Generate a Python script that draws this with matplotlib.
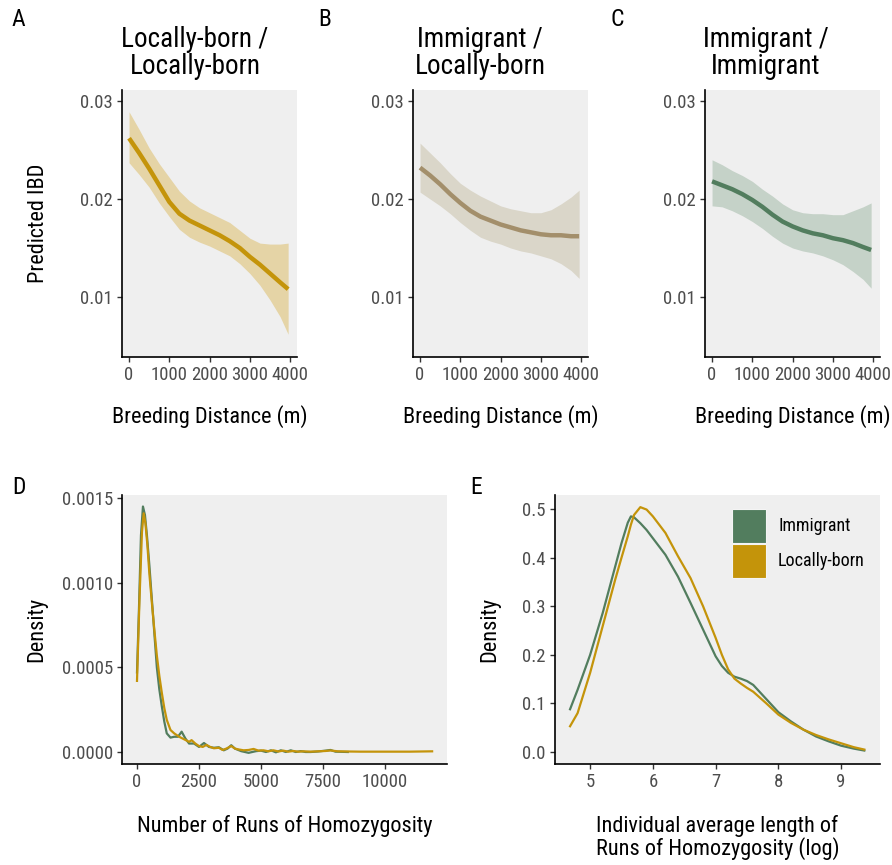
import matplotlib
matplotlib.use("Agg")
import matplotlib.pyplot as plt

plt.rcParams["font.family"] = ["Roboto Condensed", "DejaVu Sans"]

W, H = 892, 865

# ---- panels A-C: predicted IBD vs breeding distance (fit + CI ribbon) ----
dist = [0, 250, 500, 750, 1000, 1250, 1500, 1750, 2000, 2250, 2500, 2750, 3000,
        3250, 3500, 3750, 3950]

ll_fit = [0.0262, 0.0247, 0.0231, 0.0214, 0.0197, 0.0185, 0.0178, 0.0173, 0.0168,
          0.0163, 0.0157, 0.0150, 0.0141, 0.0133, 0.0124, 0.0115, 0.0108]
ll_hi = [0.0289, 0.0271, 0.0252, 0.0236, 0.0222, 0.0208, 0.0198, 0.0191, 0.0186,
         0.0181, 0.0176, 0.0168, 0.0160, 0.0155, 0.0154, 0.0154, 0.0155]
ll_lo = [0.0237, 0.0225, 0.0212, 0.0196, 0.0182, 0.0169, 0.0161, 0.0156, 0.0152,
         0.0147, 0.0142, 0.0134, 0.0124, 0.0112, 0.0097, 0.0080, 0.0062]

il_fit = [0.0232, 0.0224, 0.0215, 0.0205, 0.0196, 0.0188, 0.0182, 0.0178, 0.0174,
          0.0171, 0.0168, 0.0166, 0.0164, 0.0163, 0.0163, 0.0162, 0.0162]
il_hi = [0.0257, 0.0247, 0.0237, 0.0226, 0.0216, 0.0209, 0.0203, 0.0198, 0.0193,
         0.0190, 0.0188, 0.0186, 0.0186, 0.0189, 0.0195, 0.0202, 0.0209]
il_lo = [0.0207, 0.0200, 0.0193, 0.0185, 0.0176, 0.0168, 0.0161, 0.0157, 0.0154,
         0.0150, 0.0147, 0.0145, 0.0142, 0.0139, 0.0134, 0.0127, 0.0119]

ii_fit = [0.0218, 0.0214, 0.0210, 0.0205, 0.0199, 0.0192, 0.0184, 0.0177, 0.0172,
          0.0168, 0.0165, 0.0163, 0.0160, 0.0158, 0.0155, 0.0151, 0.0148]
ii_hi = [0.0240, 0.0235, 0.0229, 0.0224, 0.0218, 0.0210, 0.0203, 0.0195, 0.0189,
         0.0186, 0.0185, 0.0185, 0.0184, 0.0184, 0.0188, 0.0192, 0.0196]
ii_lo = [0.0193, 0.0192, 0.0188, 0.0183, 0.0177, 0.0170, 0.0162, 0.0155, 0.0150,
         0.0147, 0.0145, 0.0142, 0.0138, 0.0133, 0.0126, 0.0118, 0.0109]

ibd_ticks = [0.01, 0.02, 0.03]
dist_ticks = [0, 1000, 2000, 3000, 4000]

# ---- panel D: density of number of ROH ----
nroh_imm_x = [0, 80, 160, 240, 320, 400, 500, 600, 700, 800, 900, 1000, 1100, 1200,
              1350, 1500, 1650, 1800, 1950, 2100, 2300, 2500, 2700, 2900, 3100, 3300,
              3500, 3650, 3800, 3950, 4200, 4500, 4800, 5000, 5200, 5400, 5600, 5800,
              6000, 6200, 6400, 6600, 6800, 7000, 7300, 7600, 7800, 8000, 8500]
nroh_imm_y = [0.00047, 0.00085, 0.00128, 0.00145, 0.00140, 0.00128, 0.00110, 0.00090,
              0.00070, 0.00050, 0.00037, 0.00027, 0.00018, 0.00011, 0.000085, 0.00009,
              0.00009, 0.00012, 0.00008, 0.00005, 0.00005, 0.00003, 0.000053, 0.00003,
              0.000025, 0.000028, 0.00001, 0.00002, 0.00004, 0.00002, 0.000005, -0.000005,
              0.000005, 0.000008, 0.0, 0.00001, -0.000002, 0.00001, 0.0, 0.00001, 0.0,
              0.000005, 0.0, 0.0, 0.000003, 0.000008, 0.000012, 0.000002, 0.0]
nroh_loc_x = [0, 100, 200, 270, 340, 420, 500, 600, 700, 800, 900, 1000, 1100, 1200,
              1350, 1500, 1700, 1900, 2100, 2200, 2350, 2500, 2650, 2800, 2950, 3100,
              3300, 3450, 3600, 3800, 3950, 4100, 4300, 4500, 4700, 4900, 5100, 5300,
              5500, 5700, 5900, 6100, 6300, 6500, 6700, 7000, 7300, 7600, 7800, 8100,
              8500, 9000, 10000, 11000, 11900]
nroh_loc_y = [0.00042, 0.00090, 0.00130, 0.00141, 0.00135, 0.00122, 0.00105, 0.00088,
              0.00072, 0.00057, 0.00045, 0.00035, 0.00026, 0.00019, 0.00013, 0.00011,
              0.00009, 0.000075, 0.00006, 0.00007, 0.00005, 0.000035, 0.00003, 0.000042,
              0.00003, 0.000022, 0.000025, 0.000012, 0.00002, 0.000035, 0.00002,
              0.000015, 0.00001, 0.000012, 0.000018, 0.000008, 0.00001, 0.000004,
              0.00001, 0.000003, 0.000008, 0.000002, 0.000006, 0.000002, 0.000004,
              0.000002, 0.000004, 0.000006, 0.000009, 0.000004, 0.000003, 0.000002,
              0.000002, 0.000002, 0.000004]
nroh_yticks = [0.0, 0.0005, 0.0010, 0.0015]
nroh_xticks = [0, 2500, 5000, 7500, 10000]

# ---- panel E: density of average ROH length (log) ----
lroh_x = [4.68, 4.8, 5.0, 5.2, 5.4, 5.5, 5.6, 5.65, 5.7, 5.8, 5.9, 6.0, 6.2, 6.4, 6.6,
          6.8, 7.0, 7.1, 7.2, 7.3, 7.4, 7.5, 7.6, 7.8, 8.0, 8.2, 8.4, 8.6, 8.8, 9.0,
          9.2, 9.37]
lroh_imm = [0.088, 0.128, 0.200, 0.286, 0.382, 0.430, 0.472, 0.485, 0.483, 0.471,
            0.457, 0.440, 0.406, 0.361, 0.307, 0.252, 0.197, 0.177, 0.163, 0.155,
            0.151, 0.146, 0.138, 0.110, 0.082, 0.063, 0.046, 0.032, 0.022, 0.013,
            0.007, 0.003]
lroh_loc = [0.053, 0.080, 0.163, 0.259, 0.355, 0.400, 0.444, 0.468, 0.488, 0.504,
            0.499, 0.485, 0.451, 0.403, 0.358, 0.300, 0.235, 0.200, 0.170, 0.151,
            0.141, 0.132, 0.124, 0.101, 0.077, 0.060, 0.046, 0.035, 0.026, 0.018,
            0.010, 0.005]
lroh_yticks = [0.0, 0.1, 0.2, 0.3, 0.4, 0.5]
lroh_xticks = [5, 6, 7, 8, 9]

groups = ["Immigrant", "Locally-born"]

GOLD = "#C4940A"
GREEN = "#527D5E"
TAN = "#A38F6B"
BG = "#EFEFEF"
TICK_FS = 13.5
LAB_FS = 16


def add_panel(x0, y0, x1, y1):
    # pixel box (left, top, right, bottom) -> axes
    ax = fig.add_axes([x0 / W, 1 - y1 / H, (x1 - x0) / W, (y1 - y0) / H])
    ax.set_facecolor(BG)
    for s in ("top", "right"):
        ax.spines[s].set_visible(False)
    for s in ("left", "bottom"):
        ax.spines[s].set_linewidth(1.2)
        ax.spines[s].set_color("black")
    ax.tick_params(length=3.5, width=1.0, color="#333333", labelcolor="#4D4D4D",
                   labelsize=TICK_FS, pad=3)
    return ax


def ftext(x, y, s, **kw):
    fig.text(x / W, 1 - y / H, s, **kw)


fig = plt.figure(figsize=(W / 100, H / 100), dpi=100)

panels = [
    ("A", "Locally-born /\nLocally-born", 122, 12, 195, ll_fit, ll_lo, ll_hi, GOLD, "#E5D4A6"),
    ("B", "Immigrant /\nLocally-born", 413, 318, 480, il_fit, il_lo, il_hi, TAN, "#DAD6C9"),
    ("C", "Immigrant /\nImmigrant", 705, 611, 766, ii_fit, ii_lo, ii_hi, GREEN, "#C5D2C8"),
]
for i, (tag, title, left, lx, tx, fit, lo, hi, col, rib) in enumerate(panels):
    ax = add_panel(left, 90, left + 175, 357)
    ax.fill_between(dist, lo, hi, color=rib, lw=0)
    ax.plot(dist, fit, color=col, lw=3.2, solid_capstyle="butt")
    ax.set_xlim(-175, 4170)
    ax.set_ylim(0.00388, 0.03112)
    ax.set_yticks(ibd_ticks)
    ax.set_yticklabels(["0.01", "0.02", "0.03"])
    ax.set_xticks(dist_ticks)
    ax.set_xlabel("Breeding Distance (m)", fontsize=LAB_FS, color="black")
    ax.xaxis.set_label_coords(0.5, -0.18)
    if i == 0:
        ax.set_ylabel("Predicted IBD", fontsize=LAB_FS, color="black")
        ax.yaxis.set_label_coords(-0.42, 0.5)
    ftext(tx, 26, title, ha="center", va="top", fontsize=19.5, linespacing=1.0)
    ftext(lx, 20, tag, ha="left", va="center", fontsize=17)

# panel D
ax = add_panel(122, 495, 447, 764)
ax.plot(nroh_imm_x, nroh_imm_y, color=GREEN, lw=1.6)
ax.plot(nroh_loc_x, nroh_loc_y, color=GOLD, lw=1.6)
ax.set_xlim(-605, 12500)
ax.set_ylim(-0.0000709, 0.001518)
ax.set_yticks(nroh_yticks)
ax.set_yticklabels(["0.0000", "0.0005", "0.0010", "0.0015"])
ax.set_xticks(nroh_xticks)
ax.set_xlabel("Number of Runs of Homozygosity", fontsize=LAB_FS, color="black")
ax.xaxis.set_label_coords(0.5, -0.19)
ax.set_ylabel("Density", fontsize=LAB_FS, color="black")
ax.yaxis.set_label_coords(-0.23, 0.5)
ftext(12, 487, "D", ha="left", va="center", fontsize=17)

# panel E
ax = add_panel(555, 495, 880, 764)
ax.plot(lroh_x, lroh_imm, color=GREEN, lw=1.6, label=groups[0])
ax.plot(lroh_x, lroh_loc, color=GOLD, lw=1.6, label=groups[1])
ax.set_xlim(4.44, 9.62)
ax.set_ylim(-0.0247, 0.529)
ax.set_yticks(lroh_yticks)
ax.set_yticklabels(["0.0", "0.1", "0.2", "0.3", "0.4", "0.5"])
ax.set_xticks(lroh_xticks)
ax.set_xlabel("Individual average length of\nRuns of Homozygosity (log)", fontsize=LAB_FS,
              color="black", linespacing=1.0)
ax.xaxis.set_label_coords(0.5, -0.19)
ax.set_ylabel("Density", fontsize=LAB_FS, color="black")
ax.yaxis.set_label_coords(-0.17, 0.5)
ftext(470, 487, "E", ha="left", va="center", fontsize=17)

# legend: filled keys, as in the ggplot density fill legend
for k, (name, col) in enumerate(zip(groups, [GREEN, GOLD])):
    y_top = 509 + 35 * k
    fig.patches.append(matplotlib.patches.Rectangle(
        (732 / W, 1 - (y_top + 34) / H), 34 / W, 34 / H, transform=fig.transFigure,
        facecolor=col, edgecolor="#F4F4F4", lw=0.8))
    ftext(778, y_top + 17, name, ha="left", va="center", fontsize=13)

fig.savefig("out.png", dpi=100)
